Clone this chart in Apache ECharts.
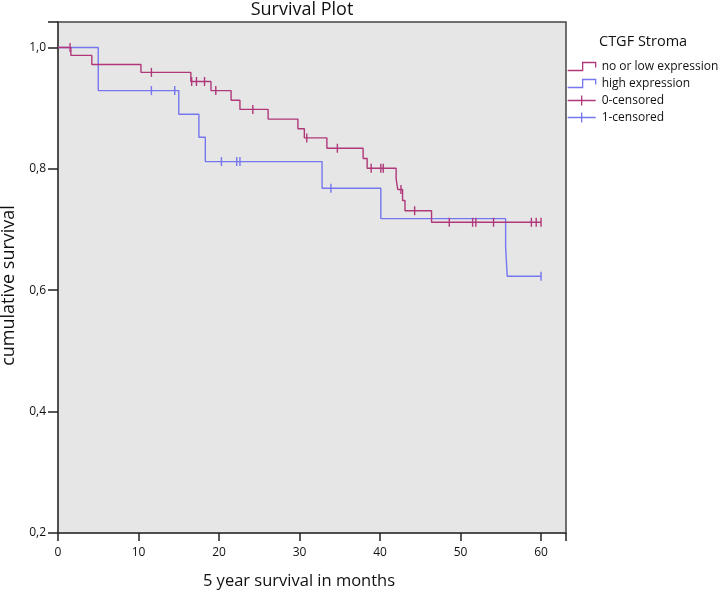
<!DOCTYPE html>
<html>
<head>
<meta charset="utf-8">
<script src="https://cdn.jsdelivr.net/npm/echarts@6/dist/echarts.min.js"></script>
<style>
html,body{margin:0;padding:0;background:#fff;}
#chart{width:720px;height:593px;}
</style>
</head>
<body>
<div id="chart"></div>
<script>
// Kaplan-Meier step data (time in months, survival after the step)
var lowTimes = [0, 1.6, 4.2, 10.3, 16.5, 19.0, 21.5, 22.6, 26.1, 29.8, 30.6, 33.4, 37.9, 38.4, 42.0, 42.2, 42.8, 43.1, 46.4, 60.0];
var lowSurv  = [1.0, 0.987, 0.972, 0.959, 0.944, 0.929, 0.913, 0.898, 0.882, 0.866, 0.851, 0.834, 0.817, 0.801, 0.784, 0.766, 0.748, 0.731, 0.712, 0.712];
var highTimes = [0, 5.0, 15.0, 17.5, 18.3, 32.8, 40.1, 55.6, 55.8, 60.0];
var highSurv  = [1.0, 0.929, 0.890, 0.852, 0.812, 0.768, 0.718, 0.671, 0.623, 0.623];
// censored observation times
var lowCensored  = [1.5, 11.6, 16.6, 17.2, 18.2, 19.6, 24.2, 30.9, 34.7, 38.9, 40.1, 40.4, 42.6, 44.3, 48.6, 51.5, 51.9, 54.1, 58.8, 59.4, 60.0];
var highCensored = [11.6, 14.5, 20.3, 22.2, 22.6, 33.9, 60.0];
// axis ticks
var xTicks = [0, 10, 20, 30, 40, 50, 60];
var yTicks = [0.2, 0.4, 0.6, 0.8, 1.0];
var seriesNames = ['no or low expression', 'high expression', '0-censored', '1-censored'];

var RED = '#b0387a', BLUE = '#7676f0';
var FONT = '"Open Sans", "Noto Sans", sans-serif';

function pairs(t, s) { return t.map(function (v, i) { return [v, s[i]]; }); }
function survAt(t, s, x) {
  var v = s[0];
  for (var i = 0; i < t.length; i++) { if (t[i] <= x) v = s[i]; }
  return v;
}
function censorPts(ct, t, s) { return ct.map(function (x) { return [x, survAt(t, s, x)]; }); }

var chart = echarts.init(document.getElementById('chart'));
var stepIcon = 'path://M0,9L15,9L15,1L28,1L28,6';
var plusIcon = 'path://M0,5L28,5M14,0L14,10';
chart.setOption({
  animation: false,
  backgroundColor: '#fff',
  textStyle: { fontFamily: FONT },
  title: [
    { text: 'Survival Plot', left: 302, top: 1, padding: 0, textAlign: 'center',
      textStyle: { fontSize: 18, fontWeight: 'normal', color: '#111', fontFamily: FONT } },
    { text: 'CTGF Stroma', left: 599, top: 34, padding: 0,
      textStyle: { fontSize: 14.5, fontWeight: 'normal', color: '#111', fontFamily: FONT } }
  ],
  legend: {
    orient: 'vertical', left: 567, top: 60, padding: 0,
    itemWidth: 28, itemHeight: 10, itemGap: 4,
    textStyle: { fontSize: 12, color: '#111', fontFamily: FONT, lineHeight: 13, padding: [0,0,0,1] },
    data: [
      { name: seriesNames[0], icon: stepIcon, itemStyle: { color: 'transparent', borderColor: RED, borderWidth: 1.3 } },
      { name: seriesNames[1], icon: stepIcon, itemStyle: { color: 'transparent', borderColor: BLUE, borderWidth: 1.3 } },
      { name: seriesNames[2], icon: plusIcon, itemStyle: { color: 'transparent', borderColor: RED, borderWidth: 1.3 } },
      { name: seriesNames[3], icon: plusIcon, itemStyle: { color: 'transparent', borderColor: BLUE, borderWidth: 1.3 } }
    ]
  },
  grid: { left: 58, top: 22, right: 154, bottom: 60, show: true, containLabel: false, outerBoundsMode: 'none',
          backgroundColor: '#e6e6e6', borderColor: '#444', borderWidth: 1.5 },
  xAxis: {
    type: 'value', min: 0, max: 63.1, interval: 10,
    name: '5 year survival in months', nameLocation: 'middle', nameGap: 40,
    nameTextStyle: { fontSize: 16.5, color: '#111', fontFamily: FONT, padding: [0, 26, 0, 0] },
    axisLine: { show: true, lineStyle: { color: '#444', width: 1.5 } },
    axisTick: { show: true, inside: false, length: 8, lineStyle: { color: '#222', width: 1.5 } },
    axisLabel: { customValues: xTicks, inside: false, fontSize: 12, color: '#111', margin: 14 },
    splitLine: { show: false }
  },
  yAxis: {
    type: 'value', min: 0.2, max: 1.042, interval: 0.2,
    name: 'cumulative survival', nameLocation: 'middle', nameGap: 32,
    nameTextStyle: { fontSize: 18, color: '#111', fontFamily: FONT, padding: [0, 16, 0, 0] },
    axisLine: { show: true, lineStyle: { color: '#444', width: 1.5 } },
    axisTick: { show: true, inside: false, length: 10, lineStyle: { color: '#222', width: 1.5 } },
    axisLabel: { customValues: yTicks, inside: false, fontSize: 12, color: '#111', margin: 12,
      formatter: function (v) { return v.toFixed(1).replace('.', ','); } },
    splitLine: { show: false }
  },
  series: [
    { name: seriesNames[0], type: 'line', step: 'end', showSymbol: false, z: 3,
      data: pairs(lowTimes, lowSurv), lineStyle: { color: RED, width: 1.4 }, itemStyle: { color: RED } },
    { name: seriesNames[1], type: 'line', step: 'end', showSymbol: false, z: 2,
      data: pairs(highTimes, highSurv), lineStyle: { color: BLUE, width: 1.4 }, itemStyle: { color: BLUE } },
    { name: seriesNames[2], type: 'scatter', symbol: 'rect', symbolSize: [1.4, 9], z: 4,
      data: censorPts(lowCensored, lowTimes, lowSurv), itemStyle: { color: RED, opacity: 1 } },
    { name: seriesNames[3], type: 'scatter', symbol: 'rect', symbolSize: [1.4, 9], z: 4,
      data: censorPts(highCensored, highTimes, highSurv), itemStyle: { color: BLUE, opacity: 1 } }
  ]
});
</script>
</body>
</html>
